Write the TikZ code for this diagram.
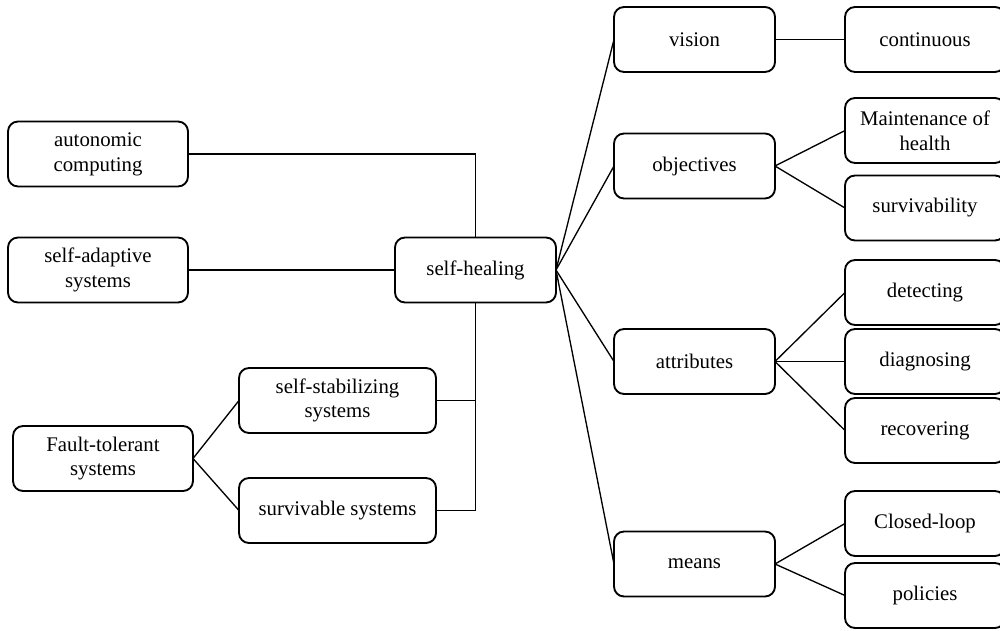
\documentclass[tikz,border=0pt]{standalone}
\usepackage{fontspec}
\setmainfont{Liberation Serif}
\usetikzlibrary{positioning}

\begin{document}
\begin{tikzpicture}[
  x=0.75pt, y=-0.75pt,
  node distance=52.5pt,
  box/.style={draw, line width=1.4pt, rounded corners=7.5pt, inner sep=0pt, outer sep=0pt, minimum height=48.75pt, align=center, font=\fontsize{15.6pt}{18.6pt}\selectfont},
  mid/.style={box, minimum width=120.75pt},
  leaf/.style={box, minimum width=120pt},
  side/.style={box, minimum width=135pt},
  sub/.style={box, minimum width=147.75pt},
  ln/.style={line width=1pt}
]
\path[fill=white] (0,0) rectangle (1000,631);
\useasboundingbox (0,0) rectangle (1000,631);

% centre
\node[mid] (heal) at (475.5,270) {self-healing};

% left side
\node[side] (auto) at (98,154) {autonomic\\computing};
\node[side] (adapt) at (98,270) {self-adaptive\\systems};
\node[side] (fault) at (103,458.5) {Fault-tolerant\\systems};
\node[sub] (stab) at (337.5,400.5) {self-stabilizing\\systems};
\node[sub] (surv) at (337.5,510.5) {survivable systems};

% right side
\node[mid] (vis) at (694.5,39.5) {vision};
\node[mid] (obj) at (694.5,166) {objectives};
\node[mid] (attr) at (694.5,361.5) {attributes};
\node[mid] (means) at (694.5,564) {means};

\node[leaf, right=of vis] (cont) {continuous};
\node[leaf] (maint) at (925,130.5) {Maintenance of\\health};
\node[leaf] (survy) at (925,208) {survivability};
\node[leaf, right=of attr] (diag) {diagnosing};
\node[leaf, above=3pt of diag] (det) {detecting};
\node[leaf, below=3pt of diag] (rec) {recovering};
\node[leaf] (loop) at (925,523.5) {Closed-loop};
\node[leaf] (pol) at (925,595.5) {policies};

\draw[ln] (auto.east) -| (heal.north);
\draw[ln] (adapt.east) -- (heal.west);
\draw[ln] (stab.east) -| (heal.south);
\draw[ln] (surv.east) -| (heal.south);
\draw[ln] (fault.east) -- (stab.west);
\draw[ln] (fault.east) -- (surv.west);

\foreach \n in {vis, obj, attr, means}
  \draw[ln] (heal.east) -- (\n.west);
\draw[ln] (vis.east) -- (cont.west);
\draw[ln] (obj.east) -- (maint.west); \draw[ln] (obj.east) -- (survy.west);
\foreach \n in {det, diag, rec}
  \draw[ln] (attr.east) -- (\n.west);
\draw[ln] (means.east) -- (loop.west); \draw[ln] (means.east) -- (pol.west);
\end{tikzpicture}
\end{document}
